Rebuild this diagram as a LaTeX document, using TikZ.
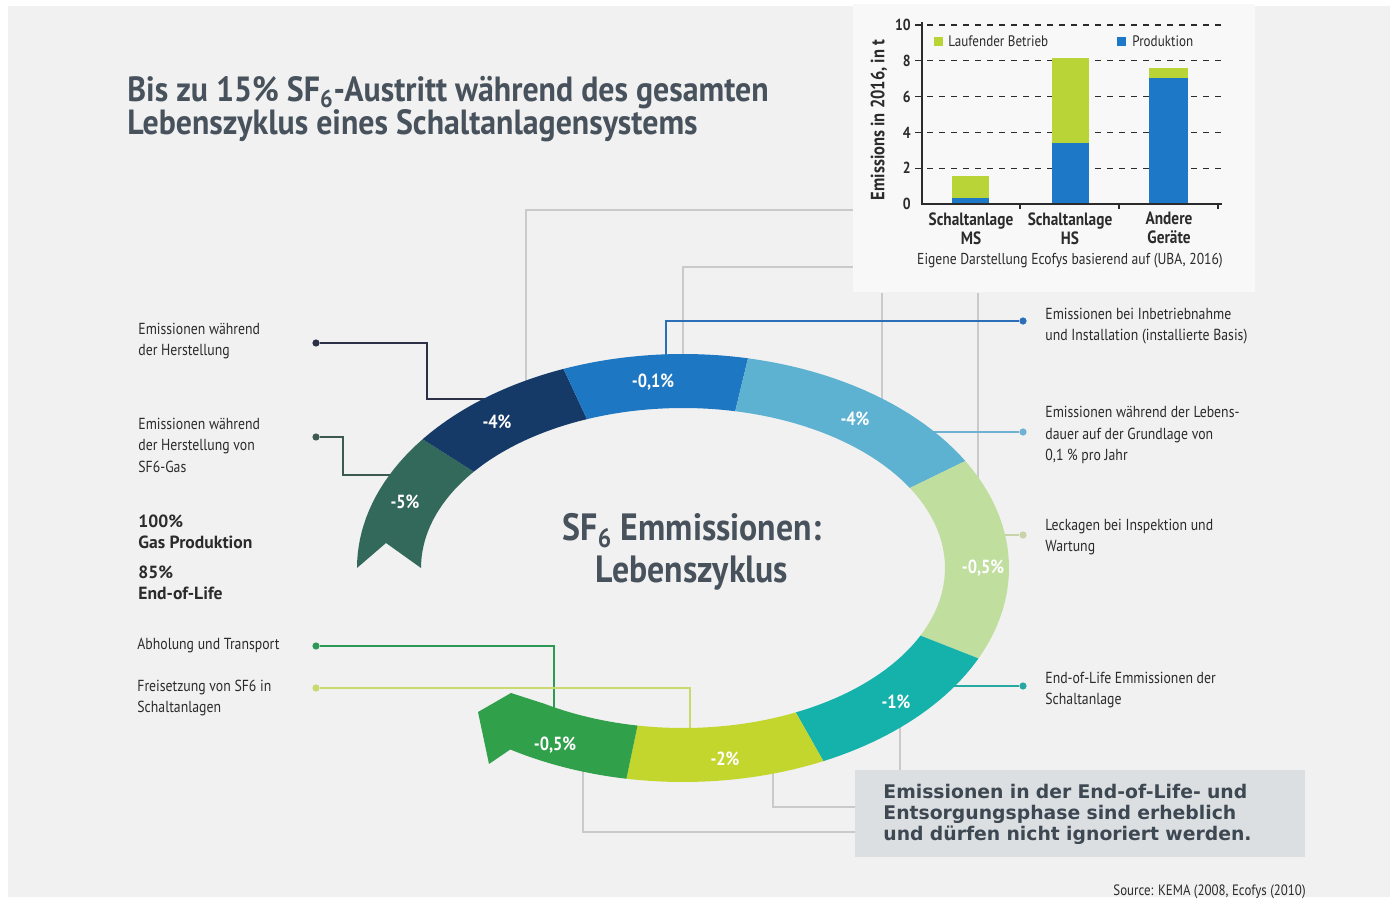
\documentclass[tikz,border=0pt]{standalone}
\usepackage{fontspec}
\setmainfont{PT Sans}
\newfontfamily\headfont[FakeStretch=0.91]{PT Sans}
\newfontfamily\corefont[FakeStretch=0.89]{PT Sans}
\newfontfamily\labfont[FakeStretch=0.86]{PT Sans}
\newfontfamily\notefont{DejaVu Sans}
\usetikzlibrary{positioning}
\definecolor{bgGrey}{HTML}{F1F1F1}
\definecolor{panelCol}{HTML}{F8F8F8}
\definecolor{titleCol}{HTML}{48525C}
\definecolor{txtDark}{HTML}{2B2B2B}
\definecolor{boxGrey}{HTML}{DCDFE2}
\definecolor{noteCol}{HTML}{3E4852}
\definecolor{lineGrey}{HTML}{C9CACC}
\definecolor{segTail}{HTML}{33695A}
\definecolor{segNavy}{HTML}{163A68}
\definecolor{segBlue}{HTML}{1E77C2}
\definecolor{segSky}{HTML}{5DB2D2}
\definecolor{segPale}{HTML}{C0DE9E}
\definecolor{segTeal}{HTML}{15B2AC}
\definecolor{segLime}{HTML}{C2D62E}
\definecolor{segGreen}{HTML}{31A04B}
\definecolor{barBlue}{HTML}{1E78C8}
\definecolor{barGreen}{HTML}{B9D437}
\definecolor{ldHer}{HTML}{2C3146}
\definecolor{ldGas}{HTML}{3C5A52}
\definecolor{ldAbh}{HTML}{2E9856}
\definecolor{ldFrei}{HTML}{CBD86E}
\definecolor{ldInb}{HTML}{2A6FB8}
\definecolor{ldLeb}{HTML}{6EB1D2}
\definecolor{ldLeck}{HTML}{C8D3A8}
\definecolor{ldEol}{HTML}{26A8A3}

\begin{document}
\begin{tikzpicture}[x=0.5pt,y=-0.5pt,
  lab/.style={font=\labfont\fontsize{8}{10.75}\selectfont, text=txtDark, align=left, inner sep=0pt},
  boldlab/.style={font=\bfseries\fontsize{8.8}{10.5}\selectfont, text=txtDark, align=left, inner sep=0pt},
  ldot/.style={circle, fill=#1, inner sep=0pt, minimum size=3.6pt},
  leader/.style={draw=#1, line width=0.8pt},
  gline/.style={draw=lineGrey, line width=0.7pt},
  pct/.style={font=\labfont\bfseries\fontsize{9.5}{10}\selectfont, text=white},
  axlab/.style={font=\labfont\bfseries\fontsize{8}{9}\selectfont, text=txtDark, inner sep=1pt}]
\def\ringx{683}\def\ringy{568}\def\oa{326}\def\ob{214}\def\ia{262}\def\ib{160}
\useasboundingbox (0,0) rectangle (1396,903);
\fill[white] (0,0) rectangle (1396,903);
\fill[bgGrey] (8,6) rectangle (1390,897);
\node[fill=panelCol, anchor=north west, minimum width=201pt, minimum height=144pt, inner sep=0pt] (panel) at (853,4) {};

\node[anchor=north west, font=\headfont\bfseries\fontsize{17.5}{16.5}\selectfont, text=titleCol, align=left, inner sep=0pt] (title) at (127,76)
  {Bis zu 15\% SF\textsubscript{6}-Austritt während des gesamten\\Lebenszyklus eines Schaltanlagensystems};

\foreach \v in {2,4,...,10}
  \draw[dashed, txtDark, line width=0.6pt] (915,{204-\v*17.9}) -- (1222,{204-\v*17.9});
\foreach \v in {0,2,...,10}
  \node[axlab, anchor=east] (yt\v) at (913,{204-\v*17.9}) {\v};
\fill[barBlue] (952,204) rectangle (989,{204-0.35*17.9});
\fill[barGreen] (952,{204-0.35*17.9}) rectangle (989,{204-1.55*17.9});
\fill[barBlue] (1052,204) rectangle (1089,{204-3.4*17.9});
\fill[barGreen] (1052,{204-3.4*17.9}) rectangle (1089,{204-8.15*17.9});
\fill[barBlue] (1149,204) rectangle (1188,{204-7.05*17.9});
\fill[barGreen] (1149,{204-7.05*17.9}) rectangle (1188,{204-7.6*17.9});
\draw[txtDark, line width=0.8pt] (922,22) -- (922,204) -- (1222,204);
\foreach \t in {1020,1119,1218}
  \draw[txtDark, line width=0.8pt] (\t,204) -- (\t,209);
\fill[barGreen] (934,37) rectangle (943,46);
\node[axlab, anchor=west, font=\labfont\fontsize{7.6}{8.5}\selectfont] (legG) at (946,41) {Laufender Betrieb};
\fill[barBlue] (1117,37) rectangle (1126,46);
\node[axlab, anchor=west, font=\labfont\fontsize{7.6}{8.5}\selectfont] (legB) at (1130,41) {Produktion};
\node[axlab, rotate=90, font=\labfont\bfseries\fontsize{9.6}{10}\selectfont] (ylab) at (879,120) {Emissions in 2016, in t};
\node[axlab, align=center, anchor=north, font=\labfont\bfseries\fontsize{8.9}{9.5}\selectfont] (cMS) at (971,210) {Schaltanlage\\MS};
\node[axlab, align=center, anchor=north, font=\labfont\bfseries\fontsize{8.9}{9.5}\selectfont] (cHS) at (1070,210) {Schaltanlage\\HS};
\node[axlab, align=center, anchor=north, font=\labfont\bfseries\fontsize{8.9}{9.5}\selectfont] (cAG) at (1169,210) {Andere\\Geräte};
\node[axlab, font=\labfont\fontsize{7.9}{8}\selectfont] (cap) at (1070,261) {Eigene Darstellung Ecofys basierend auf (UBA, 2016)};

\coordinate (pA) at (853,210);
\coordinate (rA) at (526,385);
\coordinate (pB) at (853,267);
\coordinate (rB) at (683,360);
\coordinate (rC) at (882,405);
\coordinate (rD) at (978,480);
\draw[gline] (pA) -| (rA);
\draw[gline] (pB) -| (rB);
\draw[gline] (rC |- panel.south) -- (rC);
\draw[gline] (rD |- panel.south) -- (rD);

\node[fill=boxGrey, anchor=north west, minimum width=225pt, minimum height=43.5pt, text width=197pt, inner xsep=14pt, align=left,
  font=\notefont\bfseries\fontsize{9.4}{10.5}\selectfont, text=noteCol] (callout) at (855,770)
  {Emissionen in der End-of-Life- und\\Entsorgungsphase sind erheblich\\und dürfen nicht ignoriert werden.};
\coordinate (eE) at (855,832);
\coordinate (rE) at (583,765);
\coordinate (eF) at (855,807);
\coordinate (rF) at (773,770);
\coordinate (rG) at (900,720);
\draw[gline] (eE) -| (rE);
\draw[gline] (eF) -| (rF);
\draw[gline] (callout.north west -| rG) -- (rG);

\node[lab, anchor=west] (lHer) at (138,341) {Emissionen während\\der Herstellung};
\node[ldot=ldHer] (dHer) at (316,343) {};
\node[lab, anchor=west] (lGas) at (138,445) {Emissionen während\\der Herstellung von\\SF6-Gas};
\node[ldot=ldGas] (dGas) at (316,437) {};
\node[boldlab, anchor=west] (lProd) at (138,532) {100\%\\Gas Produktion};
\node[boldlab, anchor=west] (lEnd) at (138,583) {85\%\\End-of-Life};
\node[lab, anchor=west] (lAbh) at (137,646) {Abholung und Transport};
\node[ldot=ldAbh] (dAbh) at (316,646) {};
\node[lab, anchor=west] (lFrei) at (137,698) {Freisetzung von SF6 in\\Schaltanlagen};
\node[ldot=ldFrei] (dFrei) at (316,688) {};

\node[ldot=ldInb] (dInb) at (1023,321) {};
\node[lab, right=9pt of dInb, yshift=-2.5pt] (lInb) {Emissionen bei Inbetriebnahme\\und Installation (installierte Basis)};
\node[ldot=ldLeb] (dLeb) at (1023,432) {};
\node[lab, right=9pt of dLeb, yshift=-1.5pt] (lLeb) {Emissionen während der Lebens-\\dauer auf der Grundlage von\\0,1 \% pro Jahr};
\node[ldot=ldLeck] (dLeck) at (1023,535) {};
\node[lab, right=9pt of dLeck, yshift=-1pt] (lLeck) {Leckagen bei Inspektion und\\Wartung};
\node[ldot=ldEol] (dEol) at (1023,686) {};
\node[lab, right=9pt of dEol, yshift=-2pt] (lEol) {End-of-Life Emmissionen der\\Schaltanlage};

\coordinate (kHer) at (427,399);
\coordinate (rHer) at (495,399);
\coordinate (kGas) at (343,475);
\coordinate (rGas) at (395,475);
\coordinate (rAbh) at (554,740);
\coordinate (rFrei) at (690,750);
\coordinate (rInb) at (666,370);
\coordinate (rLeb) at (925,432);
\coordinate (rLeck) at (995,535);
\coordinate (rEol) at (935,686);
\draw[leader=ldHer] (dHer) -| (kHer) -- (rHer);
\draw[leader=ldGas] (dGas) -| (kGas) -- (rGas);
\draw[leader=ldAbh] (dAbh) -| (rAbh);
\draw[leader=ldFrei] (dFrei) -| (rFrei);
\draw[leader=ldInb] (dInb) -| (rInb);
\draw[leader=ldLeb] (dLeb) -- (rLeb);
\draw[leader=ldLeck] (dLeck) -- (rLeck);
\draw[leader=ldEol] (dEol) -- (rEol);

\fill[segTail] plot[domain=180:217, samples=20] ({\ringx+\oa*cos(\x)},{\ringy+\ob*sin(\x)})
  -- plot[domain=217:180, samples=20] ({\ringx+\ia*cos(\x)},{\ringy+\ib*sin(\x)}) -- (386,543) -- cycle;
\foreach \a/\b/\c in {217/248.5/segNavy, 248.5/281.5/segBlue, 281.5/330/segSky, 330/385/segPale, 385/424.5/segTeal, 424.5/460/segLime}
  \fill[\c] plot[domain=\a:\b, samples=25] ({\ringx+\oa*cos(\x)},{\ringy+\ob*sin(\x)})
    -- plot[domain=\b:\a, samples=25] ({\ringx+\ia*cos(\x)},{\ringy+\ib*sin(\x)}) -- cycle;
\fill[segGreen] plot[domain=460:482, samples=15] ({\ringx+\oa*cos(\x)},{\ringy+\ob*sin(\x)})
  -- (489,764) -- (478,712) -- (511,693)
  -- plot[domain=482:460, samples=15] ({\ringx+\ia*cos(\x)},{\ringy+\ib*sin(\x)}) -- cycle;

\node[pct] (p1) at (405,502) {-5\%};
\node[pct] (p2) at (497,422) {-4\%};
\node[pct] (p3) at (653,382) {-0,1\%};
\node[pct] (p4) at (855,419) {-4\%};
\node[pct] (p5) at (983,568) {-0,5\%};
\node[pct] (p6) at (896,702) {-1\%};
\node[pct] (p7) at (725,759) {-2\%};
\node[pct] (p8) at (555,745) {-0,5\%};

\node[font=\corefont\bfseries\fontsize{19}{21}\selectfont, text=titleCol, align=center] (core) at (692,552)
  {SF\textsubscript{6} Emmissionen:\\Lebenszyklus};

\node[anchor=east, font=\labfont\fontsize{7.5}{8}\selectfont, text=txtDark, inner sep=0pt] (src) at (1306,892) {Source: KEMA (2008, Ecofys (2010)};
\end{tikzpicture}
\end{document}
